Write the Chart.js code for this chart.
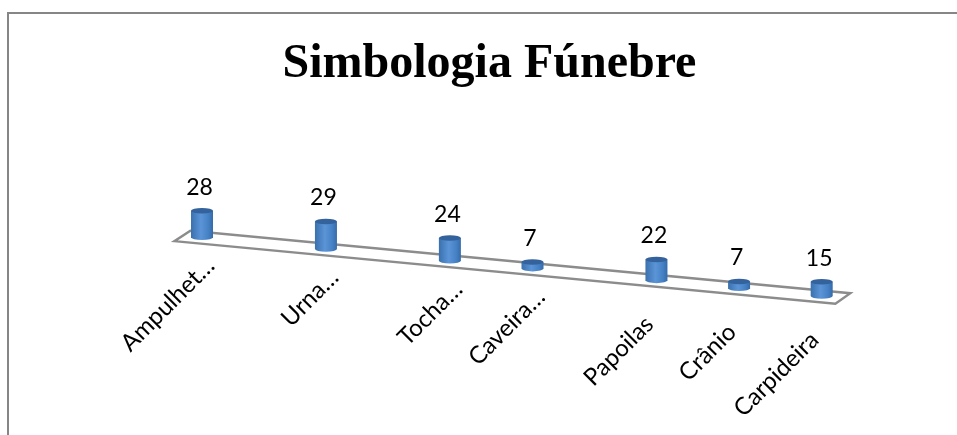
<!DOCTYPE html>
<html>
<head>
<meta charset="utf-8">
<script src="https://cdn.jsdelivr.net/npm/chart.js@4"></script>
<style>
  body { margin: 0; background: #fff; overflow: hidden; }
  #frame { position: absolute; left: 7px; top: 12px; right: -5px; bottom: -5px; border: 2px solid #868686; }
  canvas { position: absolute; left: 0; top: 0; }
</style>
</head>
<body>
<div id="frame"></div>
<canvas id="funeralChart" width="957" height="435"></canvas>
<script>
// blank categories keep the gaps of the original sheet
const categories = ["Ampulhet…", "", "", "Urna…", "", "", "Tocha…", "", "Caveira…", "", "", "Papoilas", "", "Crânio", "", "Carpideira"];
const values = [28, null, null, 29, null, null, 24, null, 7, null, null, 22, null, 7, null, 15];
const yTicks = [0, 30];

const SLOPE = 0.0947; // the floor runs downhill to the right
const RX = 11;
const RY = 2.8;

function drop(chart, x) {
  return SLOPE * (x - chart.chartArea.left);
}

const cylinders = {
  id: "cylinders",
  afterLayout(chart) {
    // title is centred a bit right of the canvas, not over the plot
    chart.titleBlock.left -= 22.4;
    chart.titleBlock.right -= 22.4;
  },
  beforeDatasetsDraw(chart) {
    const ctx = chart.ctx;
    const area = chart.chartArea;
    const yBase = chart.scales.y.getPixelForValue(0);

    // floor
    ctx.save();
    ctx.strokeStyle = "#8c8c8c";
    ctx.lineWidth = 2.4;
    ctx.lineJoin = "miter";
    const fl = area.left - 7, fr = area.right - 7, bl = area.left + 9, br = area.right + 8;
    ctx.beginPath();
    ctx.moveTo(fl, yBase + drop(chart, fl) + 6.5);
    ctx.lineTo(fr, yBase + drop(chart, fr) + 6.5);
    ctx.lineTo(br, yBase + drop(chart, br) - 5.5);
    ctx.lineTo(bl, yBase + drop(chart, bl) - 5.5);
    ctx.closePath();
    ctx.stroke();
    ctx.restore();

    // bars as cylinders, from the bar elements
    chart.getDatasetMeta(0).data.forEach((bar, i) => {
      if (values[i] === null) return;
      const d = drop(chart, bar.x);
      const top = bar.y + d;
      const bottom = bar.base + d;
      const grad = ctx.createLinearGradient(bar.x - RX, 0, bar.x + RX, 0);
      grad.addColorStop(0, "#3a70ad");
      grad.addColorStop(0.45, "#5b95d8");
      grad.addColorStop(0.8, "#4580c4");
      grad.addColorStop(1, "#356aa8");
      ctx.save();
      ctx.fillStyle = grad;
      ctx.beginPath();
      ctx.moveTo(bar.x - RX, top);
      ctx.lineTo(bar.x - RX, bottom);
      ctx.ellipse(bar.x, bottom, RX, RY, 0, Math.PI, 0, true);
      ctx.lineTo(bar.x + RX, top);
      ctx.closePath();
      ctx.fill();
      ctx.fillStyle = "#33629c";
      ctx.beginPath();
      ctx.ellipse(bar.x, top, RX, RY, 0, 0, Math.PI * 2);
      ctx.fill();

      // value above the cylinder
      ctx.fillStyle = "#000";
      ctx.font = "23px Lato";
      ctx.textAlign = "center";
      ctx.textBaseline = "middle";
      ctx.fillText(values[i], bar.x - 2.5, top - 23.5);
      ctx.restore();
    });

    // category labels follow the slope too
    const xScale = chart.scales.x;
    categories.forEach((label, i) => {
      if (!label) return;
      const x = xScale.getPixelForTick(i);
      // cut-off labels reach further up the diagonal
      const extra = label.endsWith("…") ? 22 : 0;
      ctx.save();
      ctx.translate(x - 7, yBase + drop(chart, x) + 40);
      ctx.rotate(-Math.PI / 4);
      ctx.fillStyle = "#000";
      ctx.font = "24px Lato";
      ctx.textAlign = "right";
      ctx.textBaseline = "middle";
      ctx.fillText(label, extra, 0);
      ctx.restore();
    });
    return false;
  },
};

new Chart(document.getElementById("funeralChart").getContext("2d"), {
  type: "bar",
  data: {
    labels: categories,
    datasets: [
      {
        label: "Simbologia Fúnebre",
        data: values,
        backgroundColor: "#4f81bd",
        barThickness: 22,
      },
    ],
  },
  options: {
    responsive: false,
    animation: false,
    layout: {
      padding: { left: 181.35, right: 114.65, top: 0, bottom: 199.66 },
    },
    plugins: {
      legend: { display: false },
      tooltip: { enabled: false },
      title: {
        display: true,
        text: "Simbologia Fúnebre",
        color: "#000",
        font: { family: "'Liberation Serif'", size: 48, weight: "bold", lineHeight: 1.2 },
        padding: { top: 35.5, bottom: 113.74 },
      },
    },
    scales: {
      x: { display: false, offset: true, ticks: { autoSkip: false } },
      y: { display: false, min: yTicks[0], max: yTicks[1] },
    },
  },
  plugins: [cylinders],
});
</script>
</body>
</html>
